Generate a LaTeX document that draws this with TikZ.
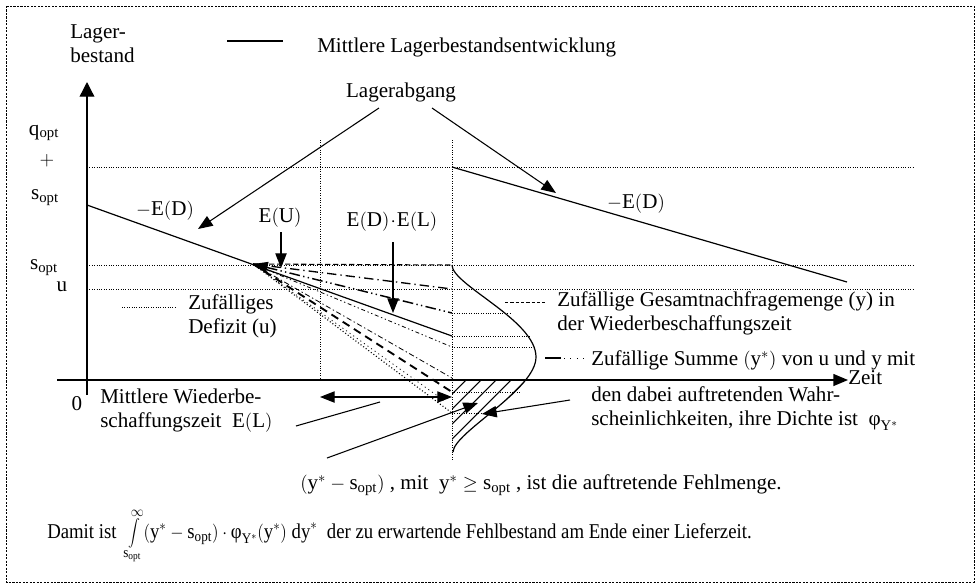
\documentclass[tikz,border=0pt]{standalone}
\usepackage{fontspec}
\setmainfont{Liberation Serif}
\usetikzlibrary{arrows.meta}
\newcommand\fsz{\fontsize{15.8}{18}\selectfont}
\newcommand\Sopt{\mathrm{s}_{\mathrm{opt}}}
\newcommand\Ys{\mathrm{y}^{*}}
\newcommand\phiY{\mbox{φ}_{\mathrm{Y}^{*}}}
\newcommand\Lp{\Bigl(}
\newcommand\Rp{\Bigr)}
\begin{document}
\begin{tikzpicture}[x=0.75pt,y=-0.75pt,
  lbl/.style={inner sep=0pt,font=\fsz},
  mlbl/.style={inner sep=0pt,font=\fsz,align=left},
  tipA/.style={-{Triangle[length=11pt,width=8.5pt]}},
  axis/.style={line width=1pt},
  mainln/.style={line width=0.9pt},
  ptr/.style={line width=0.8pt},
  grid/.style={line width=0.5pt,dash pattern=on 0.6pt off 1.2pt},
  hatch/.style={line width=0.8pt},
  border/.style={line width=0.5pt,dash pattern=on 1.6pt off 1pt},
  fA/.style={line width=0.8pt,dash pattern=on 4pt off 2pt},
  fB/.style={line width=1pt,dash pattern=on 7pt off 3pt on 1pt off 3pt},
  fC/.style={line width=1.1pt,dash pattern=on 8pt off 2.5pt on 1pt off 2.5pt on 1pt off 2.5pt},
  fD/.style={line width=0.6pt,dash pattern=on 3pt off 2pt on 1pt off 2pt on 1pt off 2pt},
  fE/.style={line width=0.6pt,dash pattern=on 4pt off 2pt on 1pt off 2pt},
  fF/.style={line width=1.4pt,dash pattern=on 6pt off 4pt},
  fG/.style={line width=0.8pt,dash pattern=on 0.8pt off 1.6pt},
  fH/.style={line width=0.6pt,dash pattern=on 0.8pt off 2.5pt}
]
\useasboundingbox (0,0) rectangle (979,587);
\draw[border] (6,6) rectangle (974,582);

% grid lines
\draw[grid] (87,167) -- (913,167);
\draw[grid] (87,265) -- (913,265);
\draw[grid] (87,289) -- (913,289);
\draw[grid] (320,140) -- (320,380);
\draw[grid] (452,140) -- (452,460);
\draw[grid] (452,313) -- (510,313);
\draw[grid] (452,336) -- (530,336);
\draw[grid] (452,347) -- (533,347);
\draw[grid] (452,392) -- (520,392);
\draw[grid] (452,413) -- (490,413);

% axes
\coordinate (ya0) at (87,395);
\coordinate (ya1) at (87,82);
\coordinate (xa0) at (57,380);
\coordinate (xa1) at (848,380);
\draw[axis,-{Triangle[length=11pt,width=11pt]}] (ya0) -- (ya1);
\draw[axis,-{Triangle[length=11pt,width=9pt]}] (xa0) -- (xa1);

% main lines
\coordinate (L1) at (87,205);
\coordinate (L2) at (452,336);
\coordinate (R1) at (452,167);
\coordinate (R2) at (847,282);
\draw[mainln] (L1) -- (L2);
\draw[mainln] (R1) -- (R2);

% fan
\coordinate (O) at (253,264);
\coordinate (e265) at (452,265);
\coordinate (e289) at (452,289);
\coordinate (e313) at (452,313);
\coordinate (e347) at (452,347);
\coordinate (e378) at (452,378);
\coordinate (e392) at (452,392);
\coordinate (e400) at (446,402);
\coordinate (e413) at (452,413);
\draw[fA] (O) -- (e265);
\draw[fB] (O) -- (e289);
\draw[fC,{Triangle[length=11pt,width=8.5pt]}-] (O) -- (e313);
\draw[fD] (O) -- (e347);
\draw[fE] (O) -- (e378);
\draw[fF] (O) -- (e392);
\draw[fH] (O) -- (e400);
\draw[fG] (O) -- (e413);

% density curve and hatch
\coordinate (d0) at (452,265);
\coordinate (d1) at (536,357);
\coordinate (d2) at (453,452);
\draw[mainln] (d0) .. controls (452,285) and (536,320) .. (d1)
  .. controls (536,390) and (454,432) .. (d2);
\begin{scope}
  \clip (452,380) rectangle (570,470);
  \clip (d0) .. controls (452,285) and (536,320) .. (d1)
    .. controls (536,390) and (454,432) .. (d2) -- (452,452) -- cycle;
  \foreach \xx in {466,481,...,586} \draw[hatch] (\xx,380) -- ++(-110,110);
\end{scope}

% legend
\coordinate (lg1) at (227,41);
\coordinate (lg2) at (283,41);
\draw[mainln] (lg1) -- (lg2);
\node[lbl,anchor=base west] (legtxt) at (317,52) {Mittlere Lagerbestandsentwicklung};

% labels
\node[mlbl,anchor=north west] (lager) at (70,24) {Lager-\\bestand};
\node[lbl] (abgang) at (401,92) {Lagerabgang};
\coordinate (ab1) at (379,108);
\coordinate (ab1e) at (198,229);
\coordinate (ab2) at (432,108);
\coordinate (ab2e) at (556,193);
\draw[ptr,tipA] (ab1) -- (ab1e);
\draw[ptr,tipA] (ab2) -- (ab2e);

\node[lbl] (qopt) at (44,133) {$\mathrm{q}_{\mathrm{opt}}$};
\node[lbl] (plus) at (47,161) {$+$};
\node[lbl] (sopt1) at (45,198) {$\Sopt$};
\node[lbl] (sopt2) at (44,268) {$\Sopt$};
\node[lbl] (uu) at (62,287) {u};
\node[lbl] (zero) at (77,404) {0};

\node[lbl] (mED1) at (165,210) {$-\mathrm{E}\Lp\mathrm{D}\Rp$};
\node[lbl] (mED2) at (636,203) {$-\mathrm{E}\Lp\mathrm{D}\Rp$};
\node[lbl] (EU) at (280,217) {$\mathrm{E}\Lp\mathrm{U}\Rp$};
\node[lbl] (EDEL) at (392,221) {$\mathrm{E}\Lp\mathrm{D}\Rp\!\cdot\!\mathrm{E}\Lp\mathrm{L}\Rp$};
\coordinate (eu1) at (281,232);
\coordinate (eu2) at (281,268);
\draw[ptr,tipA] (eu1) -- (eu2);
\coordinate (ed1) at (393,242);
\coordinate (ed2) at (393,313);
\draw[ptr,tipA] (ed1) -- (ed2);

% Zufaelliges Defizit
\coordinate (lz1) at (122,307);
\coordinate (lz2) at (175,307);
\draw[grid] (lz1) -- (lz2);
\node[mlbl,anchor=north west] (defizit) at (188,294) {Zufälliges\\Defizit (u)};

% Gesamtnachfragemenge
\coordinate (lgs1) at (505,302);
\coordinate (lgs2) at (545,302);
\draw[line width=0.6pt,dash pattern=on 2.5pt off 1.5pt] (lgs1) -- (lgs2);
\node[mlbl,anchor=north west] (gesamt) at (557,291) {Zufällige Gesamtnachfragemenge (y) in\\der Wiederbeschaffungszeit};

% Summe
\coordinate (ls1) at (545,358);
\coordinate (ls2) at (561,358);
\coordinate (ls3) at (564,358);
\coordinate (ls4) at (589,358);
\draw[line width=1.5pt] (ls1) -- (ls2);
\draw[line width=0.7pt,dash pattern=on 0.8pt off 4pt] (ls3) -- (ls4);
\node[lbl,anchor=base west] (summe) at (591,365) {Zufällige Summe $\Lp\Ys\Rp$ von u und y mit};

\node[mlbl,anchor=north west] (wahr) at (591,386) {den dabei auftretenden Wahr-\\scheinlichkeiten, ihre Dichte ist ~$\phiY$};
\coordinate (wp1) at (570,400);
\coordinate (wp2) at (482,414);
\draw[ptr,tipA] (wp1) -- (wp2);

\node[lbl,anchor=west] (zeit) at (848,378) {Zeit};

% Wiederbeschaffungszeit
\node[mlbl,anchor=north west] (wbz) at (100,389) {Mittlere Wiederbe-\\schaffungszeit ~$\mathrm{E}\Lp\mathrm{L}\Rp$};
\coordinate (da1) at (320,397);
\coordinate (da2) at (452,397);
\draw[ptr,{Triangle[length=11pt,width=8.5pt]}-{Triangle[length=11pt,width=8.5pt]}] (da1) -- (da2);
\coordinate (wz1) at (296,426);
\coordinate (wz2) at (380,402);
\draw[ptr] (wz1) -- (wz2);

% Fehlmenge
\node[lbl,anchor=west] (fehl) at (300,485) {$\Lp\Ys-\Sopt\Rp$ , mit ~$\Ys\geq\Sopt$ , ist die auftretende Fehlmenge.};
\coordinate (fm1) at (327,458);
\coordinate (fm2) at (478,403);
\draw[ptr,tipA] (fm1) -- (fm2);

% Damit ist
\node[lbl,anchor=west] (damit) at (47,536) {\scalebox{0.89}[1]{Damit ist ~$\displaystyle\int\limits_{\Sopt}^{\infty}\Lp\Ys-\Sopt\Rp\cdot\phiY\Lp\Ys\Rp\;\mathrm{dy}^{*}$ ~der zu erwartende Fehlbestand am Ende einer Lieferzeit.}};
\end{tikzpicture}
\end{document}
